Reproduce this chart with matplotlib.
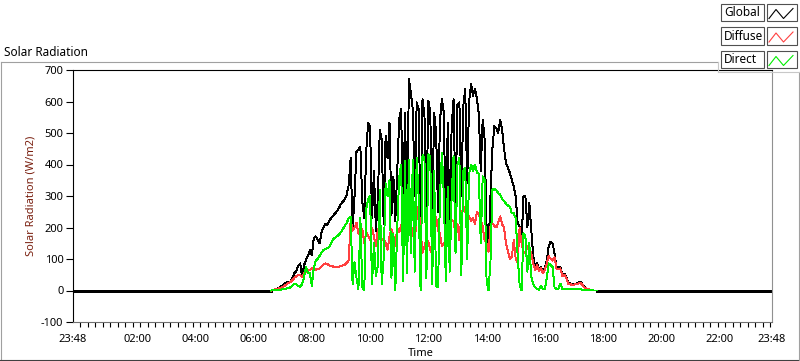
import matplotlib

matplotlib.use("Agg")
import matplotlib.pyplot as plt
import numpy as np
from matplotlib.lines import Line2D
from matplotlib.patches import Rectangle

plt.rcParams["font.family"] = ["Noto Sans", "DejaVu Sans"]

# sampling grid of the daytime record: 06:36 .. 17:48 every 4 minutes
START_MIN = 396
STEP_MIN = 4

# Global radiation (W/m2), one row per hour block
global_rad = [
    0, 2, 4, 6, 9, 12, 17,                                                    # 06:36-07:00
    22, 26, 25, 28, 40, 55, 62, 78, 86, 45, 80, 98, 110, 128, 112,            # 07:04-08:00
    165, 172, 160, 150, 185, 200, 212, 208, 222, 230, 238, 245, 252, 262, 275,  # 08:04-09:00
    282, 290, 305, 335, 420, 195,                                             # 09:04-09:24
    300, 440, 448, 455, 280, 230, 440, 533, 520, 230, 380, 190, 290, 511, 480,
    210, 490, 420, 533, 240, 362, 220, 380, 543, 575, 220, 565, 203, 671,     # 09:28-11:20
    628, 575, 300, 597, 575, 200, 607, 560, 240, 602, 565, 230, 565, 501, 250,
    540, 607, 565, 150, 533, 160, 520, 607, 260, 590, 597, 300, 586, 639, 340,
    600, 655, 618, 640,                                                       # 11:24-13:36
    610, 560, 380, 543, 480, 200, 125, 300, 450, 522, 515, 501, 543, 511, 450,
    405, 390, 373, 352, 330, 299, 214, 203, 150, 299, 299, 200, 278, 192, 110,  # 13:40-15:36
    75, 86, 65, 75, 60, 70, 95, 140, 155, 150, 118, 75, 72, 75, 50,
    53, 45, 25, 22, 20, 20, 22, 24, 28, 24, 14, 8, 5, 3, 1, 0, 0, 0,          # 15:40-17:48
]

diffuse_rad = [
    0, 2, 4, 5, 7, 9, 12,
    15, 20, 24, 27, 33, 40, 45, 50, 48, 42, 56, 60, 64, 66, 70,
    68, 66, 68, 70, 76, 82, 86, 84, 80, 78, 76, 75, 75, 76, 78,
    80, 82, 88, 95, 225, 190,
    200, 215, 180, 200, 195, 150, 185, 175, 160, 200, 170, 140, 195, 175, 160,
    165, 150, 130, 170, 195, 175, 140, 200, 185, 205, 225, 240, 190, 245,
    210, 180, 160, 230, 270, 190, 120, 140, 160, 155, 130, 118, 200, 235, 190,
    180, 140, 150, 140, 205, 200, 225, 220, 180, 210, 160, 235, 267, 250, 240,
    235, 220, 230, 210,
    250, 240, 224, 203, 160, 150, 123, 203, 214, 205, 200, 215, 235, 210, 200,
    150, 125, 100, 107, 160, 100, 90, 200, 150, 125, 118, 140, 130, 120, 86,
    65, 80, 62, 70, 55, 65, 85, 110, 100, 95, 105, 70, 68, 70, 46,
    50, 42, 22, 20, 18, 18, 20, 21, 24, 21, 12, 7, 4, 3, 1, 0, 0, 0,
]

direct_rad = [
    0, 1, 2, 2, 3, 3, 4,
    4, 6, 8, 10, 16, 22, 20, 14, 12, 20, 43, 75, 55, 55, 15,
    70, 95, 100, 110, 120, 128, 132, 134, 138, 150, 162, 168, 172, 178, 185,
    195, 205, 215, 230, 235, 20,
    90, 40, 5, 230, 10, 0, 260, 290, 300, 20, 150, 45, 80, 320, 20,
    100, 340, 300, 350, 40, 180, 0, 200, 360, 400, 30, 410, 55, 415,
    120, 415, 60, 420, 300, 0, 430, 420, 40, 432, 425, 20, 380, 15, 10,
    300, 437, 300, 30, 330, 60, 300, 426, 120, 400, 420, 50, 380, 390, 100,
    370, 400, 380, 400,
    375, 370, 150, 362, 350, 30, 0, 90, 320, 322, 318, 309, 305, 290, 285,
    275, 270, 265, 246, 245, 230, 110, 20, 0, 182, 171, 60, 150, 43, 20,
    10, 5, 3, 15, 5, 5, 40, 86, 80, 75, 10, 5, 5, 22, 5,
    5, 5, 4, 4, 4, 4, 4, 4, 4, 3, 3, 3, 2, 2, 1, 0, 0, 0,
]

series_names = ["Global", "Diffuse", "Direct"]
series_colors = ["#000000", "#ff4040", "#00ee00"]

y_ticks = [-100, 0, 100, 200, 300, 400, 500, 600, 700]
x_tick_hours = [-0.2, 2, 4, 6, 8, 10, 12, 14, 16, 18, 20, 22, 23.8]
x_tick_labels = ["23:48", "02:00", "04:00", "06:00", "08:00", "10:00", "12:00",
                 "14:00", "16:00", "18:00", "20:00", "22:00", "23:48"]

W, H = 800, 361


def fx(px):
    return px / W


def fy(py):
    return 1 - py / H


hours = (START_MIN + STEP_MIN * np.arange(len(global_rad))) / 60.0

fig = plt.figure(figsize=(8, 3.61), dpi=100)
fig.patch.set_facecolor("white")

# panel frame
fig.add_artist(Line2D([fx(0.5), fx(0.5)], [fy(62), fy(360)], color="#a0a0a0", lw=0.8))
fig.add_artist(Line2D([fx(0.5), fx(718)], [fy(62), fy(62)], color="#a0a0a0", lw=0.8))
fig.add_artist(Line2D([fx(0), fx(800)], [fy(359.5), fy(359.5)], color="#404040", lw=0.8))
fig.add_artist(Line2D([fx(799), fx(799)], [fy(72), fy(360)], color="#a0a0a0", lw=0.8))
fig.text(fx(4), fy(56), "Solar Radiation", fontsize=8.5, va="baseline", ha="left")

ax = fig.add_axes([fx(73), fy(322), fx(772) - fx(73), (322 - 70) / H])
ax.plot([-0.2, hours[0]], [0, 0], color="black", lw=1.0, antialiased=False)
ax.plot([hours[-1], 23.8], [0, 0], color="black", lw=1.0, antialiased=False)
for vals, color in zip([global_rad, diffuse_rad, direct_rad], series_colors):
    ax.plot(hours, vals, color=color, lw=0.7, antialiased=False)

ax.set_xlim(-0.2, 23.8)
ax.set_ylim(-100, 700)
ax.set_yticks(y_ticks)
ax.set_yticklabels([str(v) for v in y_ticks], fontsize=8)
ax.set_xticks(x_tick_hours)
ax.set_xticklabels(x_tick_labels, fontsize=8)
ax.set_xticks(np.arange(-0.2, 23.81, 0.2575), minor=True)
ax.tick_params(axis="y", length=5, width=0.8, pad=2, color="black")
ax.tick_params(axis="x", which="major", length=0, pad=9)
ax.tick_params(axis="x", which="minor", length=3.5, width=0.8, color="black")
for side, col in [("left", "black"), ("top", "black"), ("bottom", "#707070"), ("right", "#909090")]:
    ax.spines[side].set_color(col)
    ax.spines[side].set_linewidth(0.8)

fig.text(fx(31), fy(196), "Solar Radiation (W/m2)", rotation=90, fontsize=8,
         ha="center", va="center", color="#7a2010")
fig.text(fx(421), fy(354), "Time", fontsize=8, ha="center", va="center")

# legend block in the top-right corner
fig.add_artist(Line2D([fx(718), fx(800)], [fy(72), fy(72)], color="#c8c8c8", lw=0.8))
fig.add_artist(Line2D([fx(718), fx(718)], [fy(62), fy(72)], color="#c8c8c8", lw=0.8))
row_tops = [3.5, 27, 50.5]
for name, color, top in zip(series_names, series_colors, row_tops):
    fig.add_artist(Rectangle((fx(721), fy(top + 17.5)), fx(42.5), 17.5 / H,
                             transform=fig.transFigure, facecolor="white",
                             edgecolor="#505050", lw=0.8))
    fig.text(fx(724), fy(top + 9), name, fontsize=8.5, ha="left", va="center")
    fig.add_artist(Rectangle((fx(767), fy(top + 17.5)), fx(29.5), 17.5 / H,
                             transform=fig.transFigure, facecolor="white",
                             edgecolor="#505050", lw=0.8))
    gx = [769, 776, 783.5, 793]
    gy = [top + 15, top + 6, top + 15, top + 5]
    fig.add_artist(Line2D([fx(v) for v in gx], [fy(v) for v in gy], color=color, lw=0.8))

fig.savefig("out.png", dpi=100)
plt.close(fig)
